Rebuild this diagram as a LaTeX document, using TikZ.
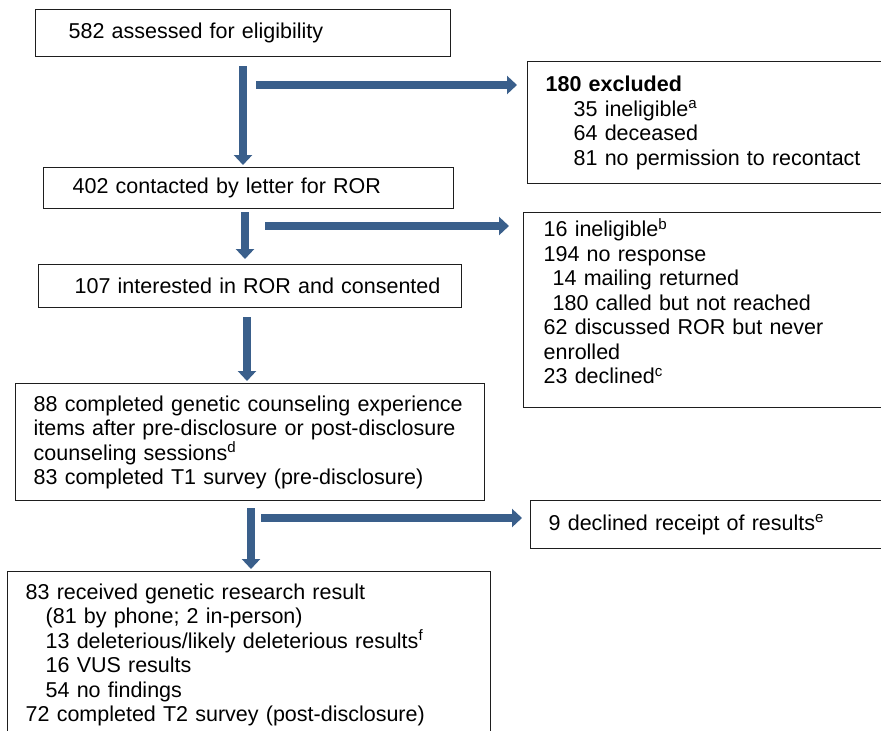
\documentclass[tikz,border=0pt]{standalone}
\usepackage{fontspec}
\setmainfont{Liberation Sans}
\usetikzlibrary{arrows.meta,calc}
\definecolor{flowBlue}{HTML}{3A5F8B}
\definecolor{boxLine}{HTML}{1E1E1E}

\begin{document}
\begin{tikzpicture}[x=1pt,y=-1pt,font=\fontsize{21.5}{24.5}\selectfont,
  box/.style={draw=boxLine,line width=1.4pt,anchor=north west,align=left,inner xsep=0pt,inner ysep=0pt},
  padl/.style={execute at begin node={\leftskip=#1}},
  flow/.style={draw=flowBlue,line width=8pt,-{Triangle[width=18pt,length=10pt]}}]
  \useasboundingbox (0,0) rectangle (881,731);
  \clip (0,0) rectangle (881,731);

  \node[box,text width=415pt,minimum height=47pt,padl=33pt] (assess) at (35,9) {582 assessed for eligibility};
  \node[box,text width=400pt,minimum height=122pt,padl=18pt] (excl) at (527,61)
    {\textbf{180 excluded}\\
     \hspace*{28pt}35 ineligible\textsuperscript{a}\\
     \hspace*{28pt}64 deceased\\
     \hspace*{28pt}81 no permission to recontact};
  \node[box,text width=410pt,minimum height=41pt,padl=29pt] (contact) at (43,167) {402 contacted by letter for ROR};
  \node[box,text width=400pt,minimum height=195pt,padl=20pt] (noenrol) at (523,212)
    {16 ineligible\textsuperscript{b}\\
     194 no response\\
     \hspace*{9pt}14 mailing returned\\
     \hspace*{9pt}180 called but not reached\\
     62 discussed ROR but never\\
     enrolled\\
     23 declined\textsuperscript{c}\rule[-18pt]{0pt}{0pt}};
  \node[box,text width=423pt,minimum height=43pt,padl=36pt] (consent) at (38,264) {107 interested in ROR and consented};
  \node[box,text width=469pt,minimum height=117pt,padl=18pt] (survey) at (15,383)
    {88 completed genetic counseling experience\\
     items after pre-disclosure or post-disclosure\\
     counseling sessions\textsuperscript{d}\\
     83 completed T1 survey (pre-disclosure)};
  \node[box,text width=400pt,minimum height=48pt,padl=18pt] (declined) at (530,500) {9 declined receipt of results\textsuperscript{e}};
  \node[box,text width=483pt,inner ysep=12pt,padl=18pt] (result) at (7,571)
    {83 received genetic research result\\
     \hspace*{20pt}(81 by phone; 2 in-person)\\
     \hspace*{20pt}13 deleterious/likely deleterious results\textsuperscript{f}\\
     \hspace*{20pt}16 VUS results\\
     \hspace*{20pt}54 no findings\\
     72 completed T2 survey (post-disclosure)};

  \coordinate (spineA) at (243,0);
  \coordinate (spineB) at (245,0);
  \coordinate (spineC) at (247,0);
  \coordinate (spineD) at (251,0);
  \coordinate (forkA) at (256,85);
  \coordinate (forkB) at (265,226);
  \coordinate (forkD) at (261,518);

  \draw[flow,shorten >=2pt] (spineA |- assess.south) ++(0,9) -- (spineA |- contact.north);
  \draw[flow,shorten >=10pt] (forkA) -- (forkA -| excl.west);
  \draw[flow,shorten >=5pt] (spineB |- contact.south) ++(0,3) -- (spineB |- consent.north);
  \draw[flow,shorten >=14pt] (forkB) -- (forkB -| noenrol.west);
  \draw[flow,shorten >=2pt] (spineC |- consent.south) ++(0,9) -- (spineC |- survey.north);
  \draw[flow,shorten >=2pt] (spineD |- survey.south) ++(0,7) -- (spineD |- result.north);
  \draw[flow,shorten >=8pt] (forkD) -- (forkD -| declined.west);
\end{tikzpicture}
\end{document}
